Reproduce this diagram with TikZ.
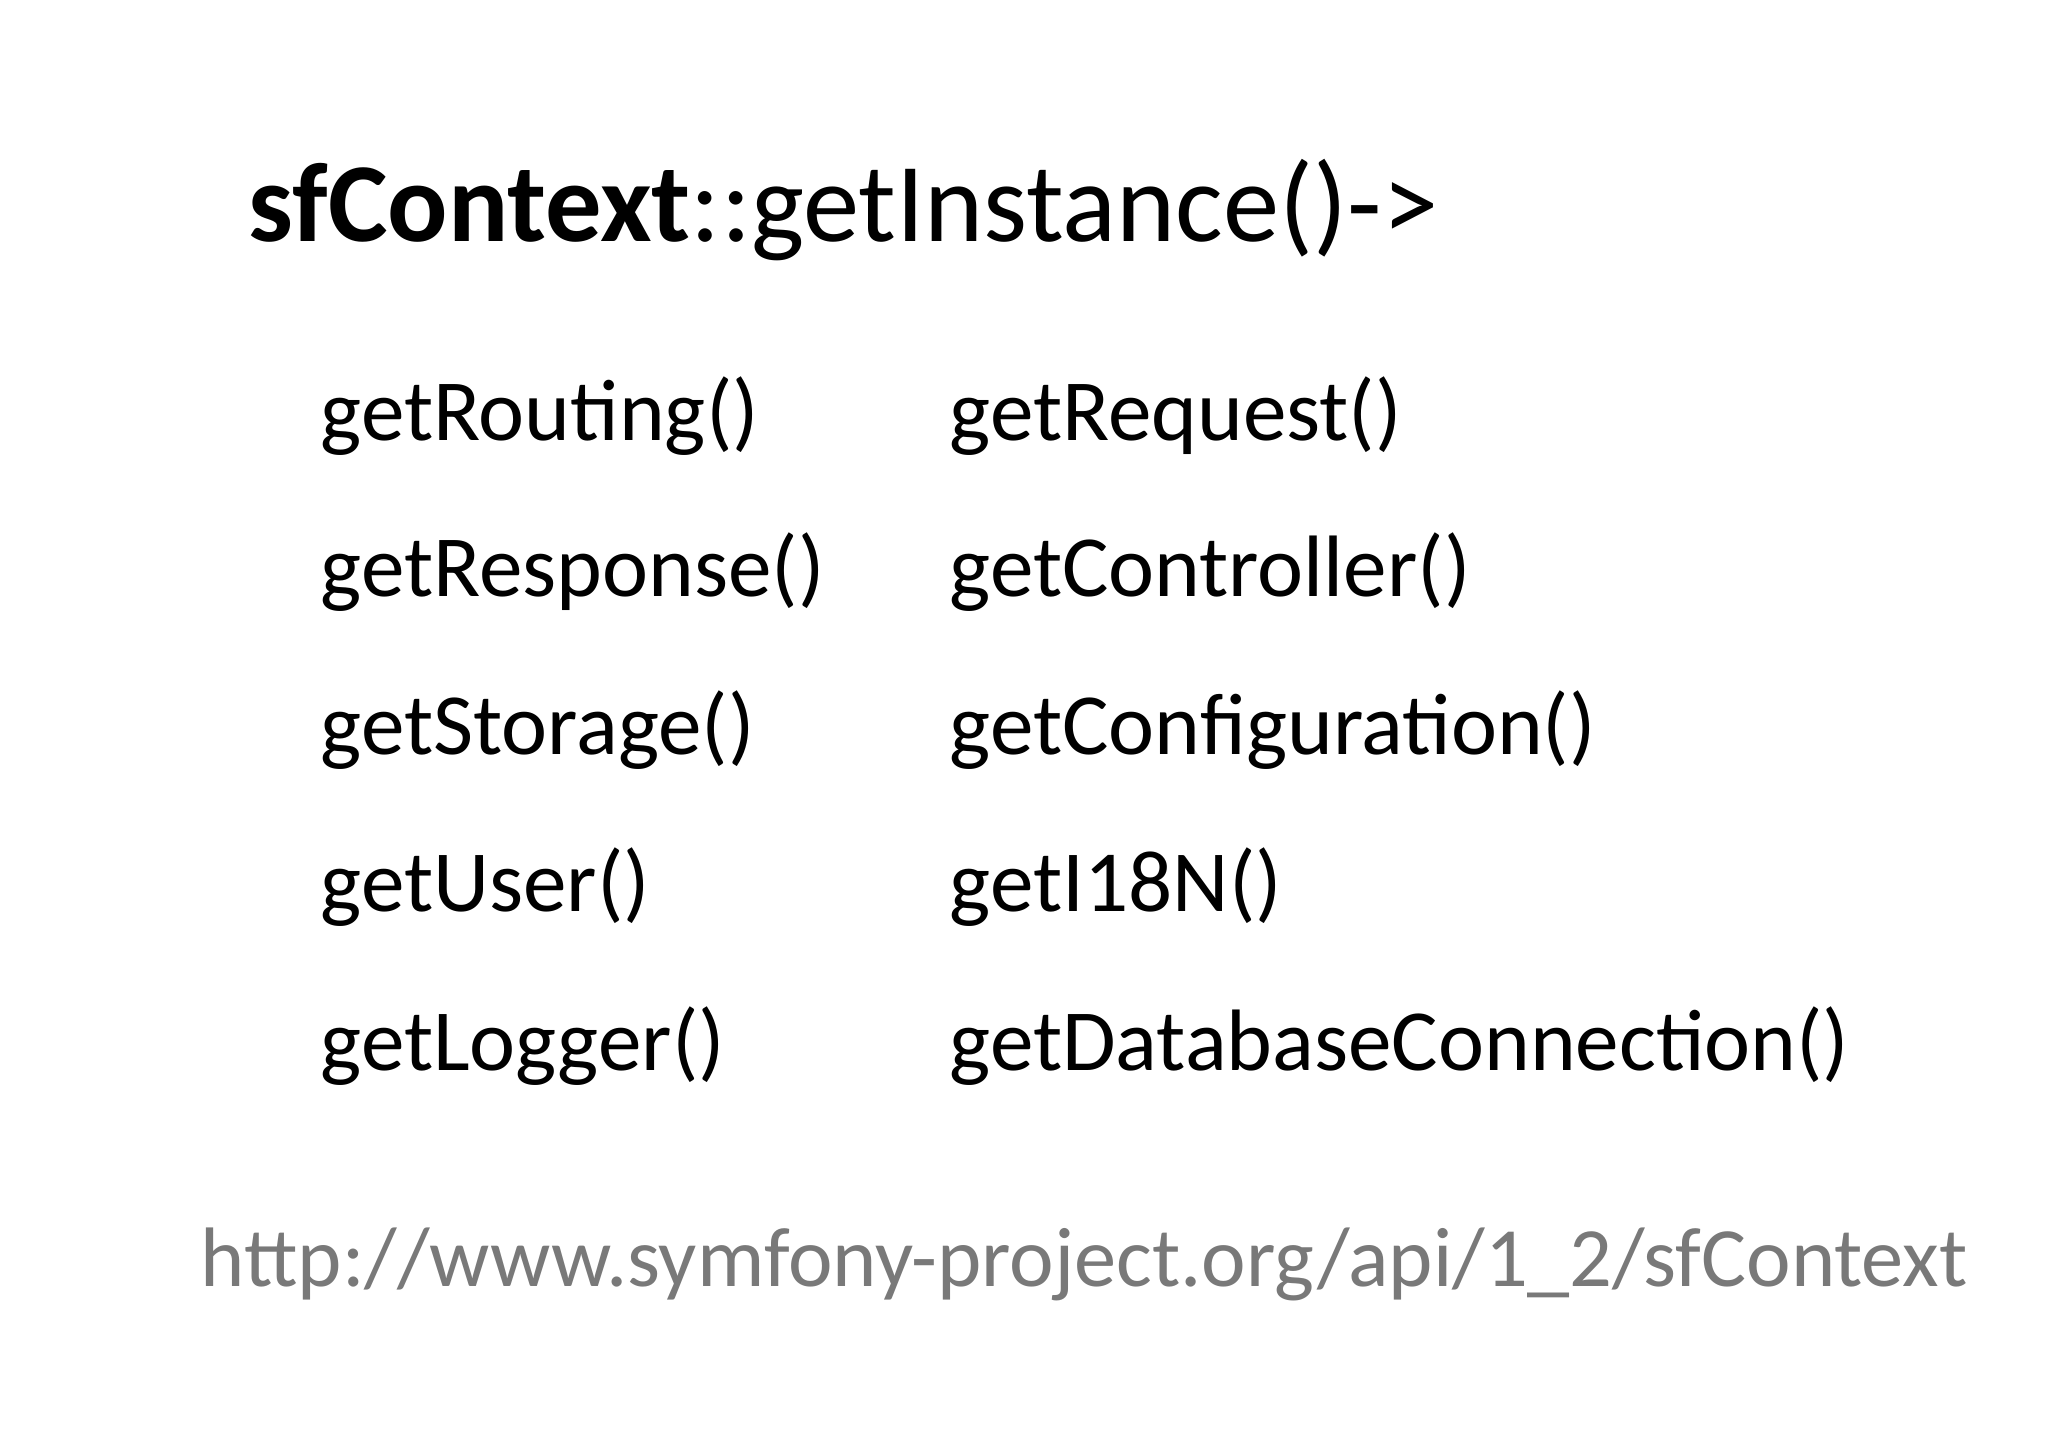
\documentclass[tikz,border=0pt]{standalone}
\usepackage{fontspec}
\setmainfont{Carlito}
\begin{document}
\begin{tikzpicture}[x=0.01cm,y=0.01cm,
  item/.style={anchor=base west,inner sep=0pt,font=\fontsize{24.8}{28}\selectfont},
  titlestyle/.style={anchor=base west,inner sep=0pt,font=\fontsize{32}{36}\selectfont},
  urlstyle/.style={anchor=base west,inner sep=0pt,text=gray!95!black,font=\fontsize{24}{28}\selectfont}]
\useasboundingbox[fill=white] (0,0) rectangle (2048,1448);
\node[titlestyle] (title) at (248,1206) {\textbf{sfContext}::getInstance()->};
\node[item] (a1) at (320,1007) {getRouting()};
\node[item] (a2) at (320,851) {getResponse()};
\node[item] (a3) at (320,693) {getStorage()};
\node[item] (a4) at (320,536) {getUser()};
\node[item] (a5) at (320,377) {getLogger()};
\node[item] (b1) at (949,1007) {getRequest()};
\node[item] (b2) at (949,851) {getController()};
\node[item] (b3) at (949,693) {getConfiguration()};
\node[item] (b4) at (949,536) {getI18N()};
\node[item] (b5) at (949,377) {getDatabaseConnection()};
\node[urlstyle] (url) at (200,162) {http://www.symfony-project.org/api/1\_2/sfContext};
\end{tikzpicture}
\end{document}
